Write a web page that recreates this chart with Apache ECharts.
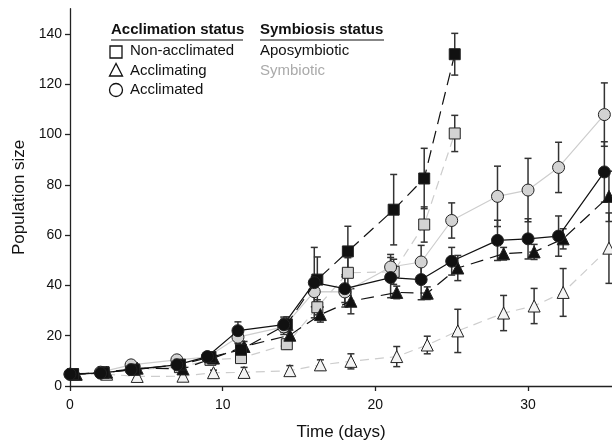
<!DOCTYPE html>
<html><head><meta charset="utf-8">
<script src="https://cdn.jsdelivr.net/npm/echarts@6/dist/echarts.min.js"></script>
<style>html,body{margin:0;padding:0;background:#fff}#c{width:612px;height:446px}</style>
</head><body><div id="c"></div><script>
// Time points (days) per acclimation group (markers slightly offset in the original)
const timeCircle   = [0, 2, 4, 7, 9, 11, 14, 16, 18, 21, 23, 25, 28, 30, 32, 35];
const timeSquare   = [0.2, 2.2, 4.2, 7.2, 9.2, 11.2, 14.2, 16.2, 18.2, 21.2, 23.2, 25.2];
const timeTriangle = [0.4, 2.4, 4.4, 7.4, 9.4, 11.4, 14.4, 16.4, 18.4, 21.4, 23.4, 25.4, 28.4, 30.4, 32.3, 35.3];

// Non-acclimated (squares)
const nonAccApo    = [4.7, 5.3, 6.5, 8.5, 11.5, 14.4, 24.5, 42.3, 53.5, 70.1, 82.5, 131.9];
const nonAccApoErr = [0.5, 0.5, 0.8, 1.0, 1.2, 2.0, 3.0, 9.0, 10.0, 14.0, 12.0, 8.3];
const nonAccSym    = [4.7, 5.5, 6.5, 7.5, 10.4, 11.1, 16.6, 31.3, 45.0, 45.4, 64.2, 100.4];
const nonAccSymErr = [0.5, 0.5, 0.8, 1.0, 1.2, 1.5, 2.0, 3.0, 6.0, 5.0, 7.0, 7.2];

// Acclimating (triangles)
const acclimatingApo    = [4.7, 5.5, 7.1, 6.8, 11.1, 15.7, 20.2, 28.4, 33.7, 37.2, 36.9, 46.9, 52.6, 53.3, 58.5, 75.4];
const acclimatingApoErr = [0.5, 0.5, 0.8, 1.0, 1.0, 2.0, 2.0, 3.0, 5.0, 2.5, 2.5, 5.0, 2.5, 3.0, 4.0, 10.0];
const acclimatingSym    = [4.7, 4.7, 3.8, 3.9, 5.3, 5.4, 6.1, 8.4, 9.8, 11.7, 16.3, 21.9, 29.0, 31.8, 37.2, 54.8];
const acclimatingSymErr = [0.3, 0.3, 0.5, 0.5, 1.0, 2.0, 2.0, 2.0, 3.0, 4.0, 3.5, 8.6, 7.0, 7.0, 9.5, 14.0];

// Acclimated (circles)
const acclimatedApo    = [4.7, 5.1, 6.5, 8.4, 11.7, 22.0, 24.4, 41.1, 38.7, 43.1, 42.3, 49.6, 57.9, 58.5, 59.6, 85.1];
const acclimatedApoErr = [0.5, 0.5, 0.8, 1.0, 1.2, 3.5, 3.0, 14.0, 5.5, 8.0, 8.0, 5.5, 8.0, 8.0, 8.0, 12.0];
const acclimatedSym    = [4.7, 5.5, 8.4, 10.4, 11.5, 19.4, 23.5, 37.5, 37.4, 47.3, 49.3, 65.8, 75.4, 77.9, 86.9, 107.9];
const acclimatedSymErr = [0.5, 0.5, 0.8, 1.0, 1.2, 2.5, 3.0, 6.0, 6.0, 5.0, 6.6, 7.0, 12.0, 12.6, 10.0, 12.6];

const xTicks = [0, 10, 20, 30];
const yTicks = [0, 20, 40, 60, 80, 100, 120, 140];

const FONT = 'Liberation Sans, Arial, sans-serif';
const BLACK = '#111';
const LGRAY = '#cdcdcd';
const FILLGRAY = '#d3d3d3';

function pts(xs, ys) { return xs.map((x, i) => [x, ys[i]]); }
function errs(xs, ys, es) { return xs.map((x, i) => [x, ys[i] - es[i], ys[i] + es[i]]); }

function errSeries(xs, ys, es) {
  return {
    type: 'custom', z: 2, silent: true,
    data: errs(xs, ys, es),
    renderItem: function (params, api) {
      const x = api.value(0);
      const lo = api.coord([x, api.value(1)]);
      const hi = api.coord([x, api.value(2)]);
      const w = 3.5;
      const st = { stroke: '#333', lineWidth: 1.5 };
      return { type: 'group', children: [
        { type: 'line', shape: { x1: lo[0], y1: lo[1], x2: hi[0], y2: hi[1] }, style: st },
        { type: 'line', shape: { x1: lo[0] - w, y1: lo[1], x2: lo[0] + w, y2: lo[1] }, style: st },
        { type: 'line', shape: { x1: hi[0] - w, y1: hi[1], x2: hi[0] + w, y2: hi[1] }, style: st }
      ]};
    }
  };
}

function lineSeries(name, xs, ys, symbol, size, fill, lineColor, lineType, z) {
  return {
    name: name, type: 'line', z: z, data: pts(xs, ys),
    symbol: symbol, symbolSize: size, showAllSymbol: true, clip: false,
    lineStyle: { color: lineColor, width: 1.2, type: lineType },
    itemStyle: { color: fill, borderColor: '#222', borderWidth: 1 },
    emphasis: { disabled: true }, animation: false
  };
}

const chart = echarts.init(document.getElementById('c'));
chart.setOption({
  animation: false,
  grid: { left: 70, right: 0, top: 8.7, bottom: 58 },
  xAxis: {
    type: 'value', min: 0, max: 35.5, interval: 10,
    name: 'Time (days)', nameLocation: 'middle', nameGap: 38,
    nameTextStyle: { fontFamily: FONT, fontSize: 17, color: '#111' },
    axisLine: { lineStyle: { color: '#222', width: 1.3 } },
    axisTick: { length: 5, lineStyle: { color: '#222', width: 1.3 }, customValues: xTicks },
    axisLabel: { fontFamily: FONT, fontSize: 14, color: '#111', margin: 12, customValues: xTicks },
    splitLine: { show: false }
  },
  yAxis: {
    type: 'value', min: 0, max: 150, interval: 10,
    name: 'Population size', nameLocation: 'middle', nameGap: 42, nameRotate: 90,
    nameTextStyle: { fontFamily: FONT, fontSize: 17, color: '#111' },
    axisLine: { show: true, lineStyle: { color: '#222', width: 1.3 } },
    axisTick: { show: true, length: 5, lineStyle: { color: '#222', width: 1.3 }, customValues: yTicks },
    axisLabel: { fontFamily: FONT, fontSize: 14, color: '#111', margin: 8, customValues: yTicks },
    splitLine: { show: false }
  },
  graphic: [
    { type: 'text', left: 111, top: 22, style: { text: 'Acclimation status', font: 'bold 15px ' + FONT, fill: '#111' } },
    { type: 'line', shape: { x1: 111, y1: 40, x2: 243, y2: 40 }, style: { stroke: '#111', lineWidth: 1.2 } },
    { type: 'text', left: 260, top: 22, style: { text: 'Symbiosis status', font: 'bold 15px ' + FONT, fill: '#111' } },
    { type: 'line', shape: { x1: 260, y1: 40, x2: 384, y2: 40 }, style: { stroke: '#111', lineWidth: 1.2 } },
    { type: 'rect', shape: { x: 110, y: 46, width: 12, height: 12 }, style: { fill: '#fff', stroke: '#111', lineWidth: 1.3 } },
    { type: 'polygon', shape: { points: [[116, 63.5], [109.5, 76], [122.5, 76]] }, style: { fill: '#fff', stroke: '#111', lineWidth: 1.3 } },
    { type: 'circle', shape: { cx: 116, cy: 90, r: 6.5 }, style: { fill: '#fff', stroke: '#111', lineWidth: 1.3 } },
    { type: 'text', left: 130, top: 43, style: { text: 'Non-acclimated', font: '15px ' + FONT, fill: '#111' } },
    { type: 'text', left: 130, top: 63, style: { text: 'Acclimating', font: '15px ' + FONT, fill: '#111' } },
    { type: 'text', left: 130, top: 82, style: { text: 'Acclimated', font: '15px ' + FONT, fill: '#111' } },
    { type: 'text', left: 260, top: 43, style: { text: 'Aposymbiotic', font: '15px ' + FONT, fill: '#111' } },
    { type: 'text', left: 260, top: 63, style: { text: 'Symbiotic', font: '15px ' + FONT, fill: '#aaa' } }
  ],
  series: [
    errSeries(timeTriangle, acclimatingSym, acclimatingSymErr),
    errSeries(timeSquare, nonAccSym, nonAccSymErr),
    errSeries(timeCircle, acclimatedSym, acclimatedSymErr),
    errSeries(timeTriangle, acclimatingApo, acclimatingApoErr),
    errSeries(timeSquare, nonAccApo, nonAccApoErr),
    errSeries(timeCircle, acclimatedApo, acclimatedApoErr),
    lineSeries('Acclimating symbiotic', timeTriangle, acclimatingSym, 'triangle', 12, '#f4f4f4', LGRAY, [9, 6], 3),
    lineSeries('Non-acclimated symbiotic', timeSquare, nonAccSym, 'rect', 11, FILLGRAY, LGRAY, [9, 6], 3),
    lineSeries('Acclimated symbiotic', timeCircle, acclimatedSym, 'circle', 12, FILLGRAY, LGRAY, 'solid', 3),
    lineSeries('Acclimating aposymbiotic', timeTriangle, acclimatingApo, 'triangle', 12, BLACK, BLACK, [13, 7], 4),
    lineSeries('Non-acclimated aposymbiotic', timeSquare, nonAccApo, 'rect', 11, BLACK, BLACK, [13, 7], 4),
    lineSeries('Acclimated aposymbiotic', timeCircle, acclimatedApo, 'circle', 12, BLACK, BLACK, 'solid', 4)
  ]
});
</script></body></html>
